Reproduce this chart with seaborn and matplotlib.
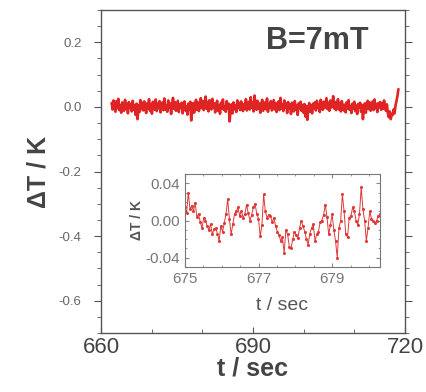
import numpy as np
import pandas as pd
import matplotlib.pyplot as plt
import seaborn as sns
from matplotlib.ticker import MultipleLocator, FormatStrFormatter

# ---------------------------------
# Data (temperature deviation, read in mK)
# ---------------------------------
main_mK = [
    12, -8, 20, 3, -15, 18, -4, 25, -10, 6, -18, 14, 2, -12, 22, -6, 9, -20, 15, -3,
    8, -14, 19, -9, 4, -25, 10, -38, 5, -16, 21, -7, 13, -11, 17, 0, -19, 11, -5, 24,
    -12, 7, -21, 16, 1, -9, 23, -13, 10, -4, 18, -17, 6, 14, -10, 26, -8, 3, -15, 20,
    -2, 11, -22, 9, 28, -6, 15, -12, 4, 19, -16, 8, -3, 13, -20, 5, 17, -11, 2, -24,
    10, -7, 16, -42, -5, 12, -18, 6, 22, -9, 14, -13, 3, 27, -4, 18, -10, 9, 32, -6,
    15, -14, 21, 1, -8, 25, -3, 11, -17, 7, 19, -12, 4, -21, 13, -6, 23, -9, 2, -15,
    18, -4, 10, -45, -12, 8, -20, 14, -7, 5, -16, 20, -2, 12, -10, 17, 3, -13, 9, -5,
    24, -11, 6, 16, -8, 30, -3, 13, -14, 35, 4, -9, 19, -6, 11, -18, 7, 22, -12, 1,
    14, -7, 26, -15, 9, -3, 18, -11, 5, 21, -8, 12, -16, 3, 17, -10, 28, -5, 8, -13,
    20, -2, 10, -19, 15, -6, 7, -22, 13, 2, -14, 18, -9, 4, -25, 11, -4, 16, -12, 6,
    -18, 9, -30, 3, -40, -8, 12, -15, 5, -20, 10, -6, 14, -11, 19, -3, 8, -16, 22, 1,
    -9, 16, -4, 11, 27, -7, 13, -12, 20, -2, 9, 33, -5, 15, -10, 6, 24, -8, 12, -14,
    18, 0, -11, 7, -17, 14, -5, 21, -9, 3, -19, 10, -6, 16, -13, 4, -22, 9, -2, 13,
    -15, 6, -38, -3, 11, -18, 8, 19, -7, 14, -12, 2, 17, -10, 23, -4, 9, -16, 12, -1,
    15, -9, 12, -6, 20, 2, -12, 8, -20, -32, -14, -38, -22, -25, -8, -20, 5, 18, 35, 55,
]
inset_mK = [
    14, 8, 30, 12, 16, 10, 19, 4, 7, -2, -8, 3, 0, -6, -10, -4, -15, -9, -8, -14,
    -22, -6, -12, -3, 7, 23, 2, -15, -4, 7, 10, 14, 5, 10, 3, 7, 17, 8, 0, 6,
    14, 18, 7, 2, -17, -5, 28, 10, 3, 6, 5, -2, 3, -6, -12, -16, -22, -18, -35, -10,
    -15, -28, -30, -20, -12, -16, -19, -8, 0, -6, -12, -20, -26, -14, -8, -4, -22, -15, -12, -2,
    0, 6, 17, 4, -15, -5, 7, -10, -22, -40, -8, 0, 28, 10, -15, -18, 3, 5, 14, 10,
    0, -5, 7, 36, 12, 0, -22, -8, 10, 2, 0, -3, 0, 5, 7,
]
main_t = np.linspace(662.1, 718.7, len(main_mK))
inset_t = np.linspace(675.0, 680.3, len(inset_mK))

main_df = pd.DataFrame({"t": main_t, "dT": np.array(main_mK) / 1000.0})
inset_df = pd.DataFrame({"t": inset_t, "dT": np.array(inset_mK) / 1000.0})

# ---------------------------------
# Style
# ---------------------------------
sns.set_style("ticks")
plt.rcParams['font.family'] = ['Liberation Sans', 'DejaVu Sans']
grey = '#555555'

fig = plt.figure(figsize=(4.27, 3.92), dpi=100)
ax = fig.add_axes([0.2365, 0.1505, 0.712, 0.824])

sns.lineplot(data=main_df, x="t", y="dT", ax=ax, color='#e02424',
             linewidth=1.9, estimator=None)
ax.set_xlim(660, 720)
ax.set_ylim(-0.7, 0.3)
ax.set_xticks([660, 690, 720])
ax.xaxis.set_minor_locator(MultipleLocator(10))
ax.set_yticks([-0.6, -0.4, -0.2, 0.0, 0.2])
ax.yaxis.set_minor_locator(MultipleLocator(0.05))
ax.yaxis.set_major_formatter(FormatStrFormatter('%.1f'))
ax.tick_params(axis='y', which='both', direction='out', right=True,
               colors=grey, labelsize=9.5, labelcolor='#666666', pad=9)
ax.tick_params(axis='y', which='major', length=5)
ax.tick_params(axis='y', which='minor', length=3)
ax.tick_params(axis='x', which='both', direction='in', colors=grey,
               labelsize=16, labelcolor='#444444', pad=3)
ax.tick_params(axis='x', which='major', length=4)
ax.tick_params(axis='x', which='minor', length=3)
for s in ax.spines.values():
    s.set_color(grey)
    s.set_linewidth(1.0)
ax.set_xlabel("t / sec", fontsize=18, fontweight='bold', color='#444444', labelpad=-1)
ax.set_ylabel("ΔT / K", fontsize=18, fontweight='bold', color='#444444', labelpad=6)
ax.text(0.71, 0.904, "B=7mT", transform=ax.transAxes, fontsize=22,
        fontweight='bold', color='#444444', ha='center', va='center')

# ---------------------------------
# Inset
# ---------------------------------
axin = fig.add_axes([0.433, 0.319, 0.457, 0.237])
sns.lineplot(data=inset_df, x="t", y="dT", ax=axin, color='#e03838',
             linewidth=0.7, marker='o', markersize=2.2, markeredgewidth=0,
             estimator=None)
axin.set_xlim(675, 680.3)
axin.set_ylim(-0.05, 0.05)
axin.set_xticks([675, 677, 679])
axin.set_yticks([-0.04, 0.0, 0.04])
axin.yaxis.set_major_formatter(FormatStrFormatter('%.2f'))
axin.yaxis.set_minor_locator(MultipleLocator(0.01))
axin.xaxis.set_minor_locator(MultipleLocator(0.5))
axin.tick_params(which='both', direction='in', colors='#888888',
                 labelsize=11, labelcolor='#777777', top=True, right=True)
axin.tick_params(which='major', length=3)
axin.tick_params(which='minor', length=1.5)
for s in axin.spines.values():
    s.set_color('#777777')
    s.set_linewidth(0.8)
axin.set_xlabel("t / sec", fontsize=14, color='#555555', labelpad=8)
axin.set_ylabel("ΔT / K", fontsize=10, fontweight='bold', color='#555555', labelpad=1)

fig.savefig("out.png", dpi=100)
